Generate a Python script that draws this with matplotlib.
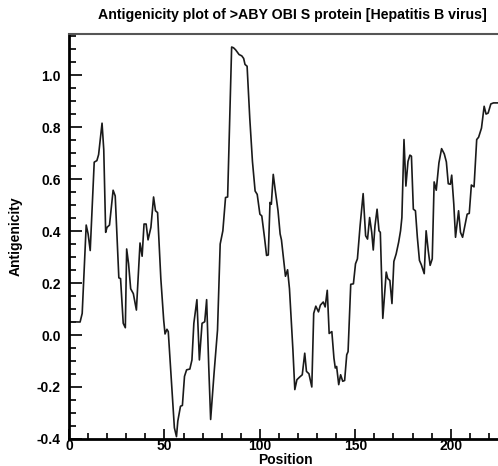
# antigenicity profile, redrawn from the reference picture

import numpy as np
import matplotlib
matplotlib.use('Agg')
import matplotlib.pyplot as plt
from matplotlib.ticker import MultipleLocator

title = 'Antigenicity plot of >ABY OBI S protein [Hepatitis B virus]'

# vertices of the curve
position = [0, 5.8, 6.9, 9.0, 10.0, 11.1, 13.2, 14.6, 15.5, 17.3, 18.2, 19.2, 19.9, 21.2,
            23.1, 24.2, 26.1, 27.0, 28.4, 29.5, 30.2, 31.2, 32.3, 33.7, 35.3, 37.2, 38.3,
            39.3, 40.4, 41.4, 42.9, 44.3, 45.3, 46.4, 48.1, 49.6, 50.3, 51.3, 52.0, 53.8,
            55.2, 56.3, 57.0, 58.4, 59.4, 60.5, 61.6, 63.3, 64.4, 65.4, 67.0, 68.3, 69.7,
            71.1, 72.1, 73.2, 74.2, 76.0, 77.8, 79.2, 80.6, 82.0, 83.1, 85.2, 86.2, 87.3,
            89.1, 90.5, 91.5, 92.2, 93.3, 94.7, 96.1, 97.5, 98.6, 100.0, 101.0, 102.4,
            103.5, 104.4, 105.3, 106.0, 107.0, 108.1, 109.5, 110.6, 111.3, 113.4, 114.5,
            115.5, 117.3, 118.3, 119.4, 120.8, 122.2, 123.5, 124.4, 125.7, 127.2, 128.2,
            129.3, 130.7, 131.7, 133.2, 134.2, 135.3, 136.3, 137.7, 138.8, 139.5, 140.2,
            141.3, 142.3, 143.4, 144.4, 145.5, 146.2, 147.6, 149.0, 150.1, 151.1, 152.5,
            154.1, 155.4, 156.4, 157.5, 158.6, 159.4, 160.3, 161.4, 162.4, 163.1, 164.4,
            166.2, 167.0, 168.1, 169.2, 170.2, 171.4, 172.7, 173.7, 174.4, 175.5, 176.5,
            177.6, 178.6, 179.4, 180.4, 181.5, 182.5, 183.6, 184.6, 186.1, 187.1, 188.2,
            189.2, 190.3, 191.3, 192.4, 193.8, 195.2, 196.6, 197.7, 198.7, 199.8, 200.5,
            201.6, 202.5, 204.1, 205.1, 206.2, 207.6, 208.6, 209.7, 210.8, 212.2, 213.6,
            214.6, 216.1, 217.5, 218.5, 219.6, 221.0, 222.4, 227.0]
antigenicity = [0.051, 0.05, 0.083, 0.423, 0.389, 0.325, 0.665, 0.671, 0.694, 0.815, 0.713,
                0.395, 0.414, 0.423, 0.557, 0.535, 0.220, 0.217, 0.045, 0.028, 0.331, 0.274,
                0.178, 0.159, 0.096, 0.354, 0.303, 0.427, 0.427, 0.366, 0.414, 0.531, 0.478,
                0.471, 0.217, 0.057, 0.004, 0.022, 0.013, -0.197, -0.357, -0.391, -0.331,
                -0.274, -0.271, -0.159, -0.134, -0.131, -0.096, 0.045, 0.136, -0.096, 0.045,
                0.051, 0.136, -0.121, -0.325, -0.146, 0.019, 0.350, 0.401, 0.529, 0.531,
                1.108, 1.105, 1.097, 1.079, 1.074, 1.064, 1.041, 1.034, 0.834, 0.668, 0.554,
                0.541, 0.465, 0.458, 0.376, 0.306, 0.308, 0.510, 0.503, 0.618, 0.554, 0.478,
                0.389, 0.366, 0.226, 0.251, 0.178, -0.057, -0.210, -0.172, -0.162, -0.153,
                -0.070, -0.140, -0.149, -0.200, 0.083, 0.111, 0.089, 0.115, 0.127, 0.108,
                0.172, 0.006, 0.013, -0.089, -0.127, -0.121, -0.191, -0.153, -0.178, -0.175,
                -0.076, -0.064, 0.195, 0.197, 0.274, 0.293, 0.420, 0.544, 0.382, 0.369,
                0.452, 0.395, 0.327, 0.420, 0.484, 0.401, 0.395, 0.064, 0.242, 0.217, 0.210,
                0.121, 0.283, 0.312, 0.357, 0.401, 0.452, 0.752, 0.573, 0.668, 0.692, 0.688,
                0.484, 0.478, 0.376, 0.287, 0.270, 0.236, 0.401, 0.325, 0.268, 0.293, 0.589,
                0.557, 0.662, 0.717, 0.697, 0.666, 0.582, 0.580, 0.615, 0.503, 0.376, 0.478,
                0.395, 0.376, 0.427, 0.465, 0.468, 0.577, 0.570, 0.752, 0.761, 0.796, 0.880,
                0.850, 0.854, 0.889, 0.893, 0.893]

plt.rcParams['font.family'] = ['Liberation Sans', 'DejaVu Sans']
plt.rcParams['font.weight'] = 'bold'

fig = plt.figure(figsize=(4.98, 4.66), dpi=100)
ax = fig.add_axes([0.1386, 0.058, 0.87, 0.869])

ax.plot(position, antigenicity, color='#1a1a1a', lw=1.2)

ax.set_xlim(0, 227)
ax.set_ylim(-0.4, 1.158)
ax.xaxis.set_major_locator(MultipleLocator(50))
ax.xaxis.set_minor_locator(MultipleLocator(10))
ax.yaxis.set_major_locator(MultipleLocator(0.2))
ax.yaxis.set_minor_locator(MultipleLocator(0.05))
ax.yaxis.set_major_formatter(plt.FormatStrFormatter('%.1f'))

ax.tick_params(axis='both', which='both', direction='in', width=1.4, color='#222222',
               labelsize=10, top=False, right=False)
ax.tick_params(axis='y', which='major', length=9, pad=6)
ax.tick_params(axis='y', which='minor', length=5)
ax.tick_params(axis='x', which='major', length=7, pad=0)
ax.tick_params(axis='x', which='minor', length=4)
for lbl in ax.get_xticklabels() + ax.get_yticklabels():
    lbl.set_fontweight('bold')

ax.spines['right'].set_visible(False)
ax.spines['left'].set_linewidth(2)
ax.spines['bottom'].set_linewidth(2)
ax.spines['top'].set_linewidth(1.5)
ax.spines['top'].set_color('#555555')

ax.set_xlabel('Position', fontsize=10, fontweight='bold', labelpad=0)
ax.set_ylabel('Antigenicity', fontsize=10, fontweight='bold', labelpad=10)
fig.text(0.587, 0.968, title, ha='center', va='center', fontsize=10.2, fontweight='bold')

plt.savefig('out.png', dpi=100)
print('** END')
